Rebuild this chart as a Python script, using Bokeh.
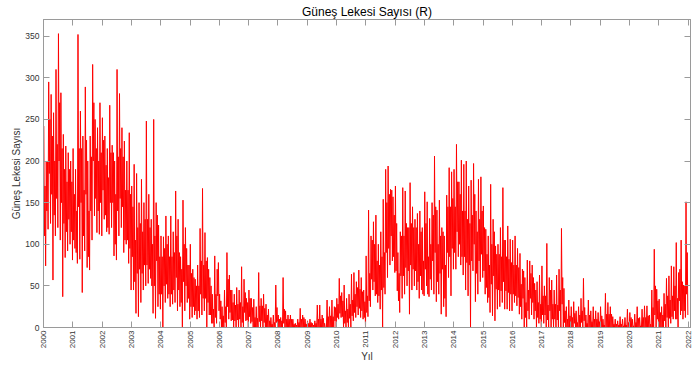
from math import pi
from bokeh.plotting import figure
from bokeh.models import FixedTicker, LinearAxis, Range1d
from bokeh.embed import file_html
from bokeh.resources import INLINE

# ---- tick definitions ----
year_ticks = list(range(2000, 2023))
year_labels = [str(y) for y in year_ticks]
value_ticks = [0, 50, 100, 150, 200, 250, 300, 350]

# ---- daily sunspot number per month:
#      high = monthly peak, low = monthly dip, mid_high / mid_low = typical band ----
high_2000 = [242, 200, 295, 280, 258, 310, 353, 282, 232, 218, 210, 200]
low_2000 = [74, 118, 125, 57, 110, 120, 105, 37, 84, 92, 100, 81]
mid_high_2000 = [170, 200, 250, 230, 200, 220, 270, 215, 190, 175, 190, 175]
mid_low_2000 = [110, 140, 185, 160, 135, 155, 200, 150, 125, 115, 130, 115]

high_2001 = [215, 190, 352, 260, 230, 289, 200, 230, 316, 250, 240, 270]
low_2001 = [95, 77, 82, 42, 92, 72, 69, 105, 134, 114, 112, 110]
mid_high_2001 = [160, 140, 215, 215, 165, 225, 140, 205, 270, 215, 200, 210]
mid_low_2001 = [105, 90, 145, 150, 110, 160, 85, 140, 200, 155, 140, 150]

high_2002 = [252, 230, 215, 267, 219, 200, 310, 281, 240, 224, 200, 234]
low_2002 = [130, 115, 112, 120, 86, 81, 110, 120, 90, 100, 77, 45]
mid_high_2002 = [225, 195, 180, 210, 210, 160, 205, 215, 205, 165, 165, 160]
mid_low_2002 = [165, 135, 120, 150, 150, 100, 140, 155, 145, 105, 105, 95]

high_2003 = [170, 196, 185, 150, 178, 150, 248, 160, 130, 250, 150, 123]
low_2003 = [45, 17, 13, 30, 45, 50, 53, 59, 17, 11, 25, 22]
mid_high_2003 = [145, 105, 120, 125, 115, 130, 130, 120, 100, 110, 135, 85]
mid_low_2003 = [85, 55, 65, 70, 65, 75, 75, 70, 50, 50, 80, 40]

high_2004 = [110, 109, 134, 110, 134, 115, 164, 130, 85, 153, 120, 75]
low_2004 = [0, 30, 35, 25, 28, 30, 20, 25, 0, 20, 30, 10]
mid_high_2004 = [85, 95, 100, 85, 85, 90, 110, 90, 70, 100, 95, 75]
mid_low_2004 = [40, 50, 52, 40, 40, 45, 60, 45, 30, 55, 50, 35]

high_2005 = [100, 70, 58, 75, 119, 167, 114, 84, 60, 40, 86, 70]
low_2005 = [12, 15, 10, 12, 15, 20, 0, 15, 5, 0, 5, 20]
mid_high_2005 = [65, 60, 50, 50, 80, 75, 80, 70, 50, 22, 40, 78]
mid_low_2005 = [25, 25, 20, 20, 40, 35, 35, 30, 15, 5, 12, 38]

high_2006 = [40, 25, 45, 90, 63, 45, 40, 48, 45, 73, 58, 35]
low_2006 = [0, 0, 0, 10, 8, 0, 0, 0, 0, 0, 8, 0]
mid_high_2006 = [32, 14, 25, 58, 45, 30, 27, 28, 30, 25, 42, 30]
mid_low_2006 = [10, 0, 6, 25, 18, 9, 8, 9, 10, 6, 18, 9]

high_2007 = [45, 35, 34, 25, 66, 35, 40, 28, 22, 12, 15, 51]
low_2007 = [5, 0, 0, 0, 0, 0, 0, 0, 0, 0, 0, 0]
mid_high_2007 = [35, 24, 12, 11, 26, 26, 23, 15, 8, 4, 6, 24]
mid_low_2007 = [13, 7, 0, 0, 7, 8, 6, 0, 0, 0, 0, 6]

high_2008 = [15, 12, 60, 20, 15, 15, 10, 5, 10, 23, 15, 10]
low_2008 = [0, 0, 0, 0, 0, 0, 0, 0, 0, 0, 0, 0]
mid_high_2008 = [10, 8, 22, 10, 10, 10, 4, 3, 6, 10, 12, 4]
mid_low_2008 = [0, 0, 5, 0, 0, 0, 0, 0, 0, 0, 0, 0]

high_2009 = [8, 10, 5, 8, 27, 27, 15, 5, 33, 25, 33, 25]
low_2009 = [0, 0, 0, 0, 0, 0, 0, 0, 0, 0, 0, 0]
mid_high_2009 = [5, 6, 3, 5, 10, 10, 11, 0, 13, 14, 13, 24]
mid_low_2009 = [0, 0, 0, 0, 0, 0, 0, 0, 0, 0, 0, 8]

high_2010 = [35, 59, 42, 51, 35, 40, 64, 66, 55, 69, 60, 45]
low_2010 = [10, 12, 0, 0, 0, 0, 8, 12, 15, 12, 10, 0]
mid_high_2010 = [28, 38, 32, 20, 22, 28, 33, 40, 48, 46, 43, 31]
mid_low_2010 = [12, 17, 13, 5, 6, 11, 14, 18, 25, 23, 20, 12]

high_2011 = [86, 141, 110, 127, 135, 100, 115, 154, 190, 194, 166, 157]
low_2011 = [13, 25, 45, 38, 30, 22, 0, 40, 60, 75, 80, 66]
mid_high_2011 = [38, 65, 105, 100, 80, 75, 85, 90, 150, 160, 165, 135]
mid_low_2011 = [18, 32, 58, 55, 40, 38, 45, 48, 90, 95, 110, 85]

high_2012 = [170, 90, 115, 168, 164, 120, 174, 145, 130, 137, 140, 120]
low_2012 = [44, 18, 35, 40, 50, 16, 45, 50, 45, 35, 45, 38]
mid_high_2012 = [125, 65, 110, 110, 125, 120, 125, 120, 120, 100, 115, 80]
mid_low_2012 = [68, 32, 62, 62, 72, 68, 75, 70, 68, 55, 62, 40]

high_2013 = [163, 151, 131, 150, 206, 141, 153, 120, 110, 159, 192, 187]
low_2013 = [50, 37, 45, 40, 31, 40, 16, 25, 13, 60, 38, 70]
mid_high_2013 = [125, 85, 100, 135, 145, 100, 110, 115, 75, 145, 145, 155]
mid_low_2013 = [70, 40, 58, 80, 90, 55, 65, 70, 35, 90, 85, 95]

high_2014 = [190, 220, 175, 201, 196, 200, 170, 177, 197, 140, 178, 181]
low_2014 = [70, 85, 75, 63, 45, 38, 0, 68, 31, 40, 55, 60]
mid_high_2014 = [145, 175, 160, 140, 140, 130, 125, 135, 160, 115, 130, 140]
mid_low_2014 = [90, 115, 100, 85, 85, 78, 75, 80, 100, 65, 80, 88]

high_2015 = [146, 118, 110, 172, 130, 98, 100, 120, 168, 105, 122, 106]
low_2015 = [40, 30, 18, 14, 8, 22, 25, 30, 22, 22, 20, 20]
mid_high_2015 = [120, 88, 75, 100, 115, 88, 88, 85, 105, 85, 82, 78]
mid_low_2015 = [68, 48, 36, 52, 62, 46, 45, 44, 55, 44, 42, 40]

high_2016 = [105, 110, 95, 89, 70, 60, 81, 80, 75, 53, 55, 63]
low_2016 = [30, 26, 16, 10, 0, 0, 10, 15, 10, 0, 5, 0]
mid_high_2016 = [75, 75, 72, 52, 68, 30, 45, 65, 60, 45, 30, 28]
mid_low_2016 = [40, 38, 36, 25, 35, 12, 20, 35, 30, 20, 12, 10]

high_2017 = [74, 50, 101, 60, 57, 45, 63, 70, 119, 47, 25, 33]
low_2017 = [5, 0, 0, 0, 0, 0, 0, 0, 0, 0, 0, 0]
mid_high_2017 = [38, 38, 27, 45, 28, 28, 27, 45, 60, 20, 10, 14]
mid_low_2017 = [15, 15, 9, 20, 10, 10, 9, 20, 28, 6, 0, 0]

high_2018 = [25, 31, 20, 25, 35, 59, 15, 33, 20, 25, 20, 18]
low_2018 = [0, 0, 0, 0, 0, 0, 0, 0, 0, 0, 0, 0]
mid_high_2018 = [12, 17, 6, 15, 20, 24, 5, 15, 7, 10, 10, 7]
mid_low_2018 = [0, 5, 0, 0, 6, 8, 0, 0, 0, 0, 0, 0]

high_2019 = [25, 10, 41, 30, 25, 13, 10, 8, 13, 10, 12, 22]
low_2019 = [0, 0, 0, 0, 0, 0, 0, 0, 0, 0, 0, 0]
mid_high_2019 = [14, 3, 16, 16, 16, 4, 4, 3, 4, 2, 3, 6]
mid_low_2019 = [0, 0, 0, 0, 0, 0, 0, 0, 0, 0, 0, 0]

high_2020 = [18, 10, 16, 25, 12, 22, 26, 26, 15, 45, 94, 46]
low_2020 = [0, 0, 0, 0, 0, 0, 0, 0, 0, 0, 0, 0]
mid_high_2020 = [12, 2, 6, 11, 2, 12, 12, 14, 4, 24, 50, 32]
mid_low_2020 = [0, 0, 0, 0, 0, 0, 0, 0, 0, 0, 15, 10]

high_2021 = [34, 25, 41, 59, 62, 74, 73, 102, 66, 105, 51, 151]
low_2021 = [0, 0, 0, 0, 5, 10, 10, 0, 15, 10, 12, 15]
mid_high_2021 = [18, 15, 28, 38, 33, 38, 50, 35, 70, 55, 50, 90]
mid_low_2021 = [0, 0, 8, 12, 11, 13, 20, 10, 32, 20, 20, 40]

first_year = 2000
highs = [high_2000, high_2001, high_2002, high_2003, high_2004, high_2005,
         high_2006, high_2007, high_2008, high_2009, high_2010, high_2011,
         high_2012, high_2013, high_2014, high_2015, high_2016, high_2017,
         high_2018, high_2019, high_2020, high_2021]
lows = [low_2000, low_2001, low_2002, low_2003, low_2004, low_2005,
        low_2006, low_2007, low_2008, low_2009, low_2010, low_2011,
        low_2012, low_2013, low_2014, low_2015, low_2016, low_2017,
        low_2018, low_2019, low_2020, low_2021]
mid_highs = [mid_high_2000, mid_high_2001, mid_high_2002, mid_high_2003,
             mid_high_2004, mid_high_2005, mid_high_2006, mid_high_2007,
             mid_high_2008, mid_high_2009, mid_high_2010, mid_high_2011,
             mid_high_2012, mid_high_2013, mid_high_2014, mid_high_2015,
             mid_high_2016, mid_high_2017, mid_high_2018, mid_high_2019,
             mid_high_2020, mid_high_2021]
mid_lows = [mid_low_2000, mid_low_2001, mid_low_2002, mid_low_2003,
            mid_low_2004, mid_low_2005, mid_low_2006, mid_low_2007,
            mid_low_2008, mid_low_2009, mid_low_2010, mid_low_2011,
            mid_low_2012, mid_low_2013, mid_low_2014, mid_low_2015,
            mid_low_2016, mid_low_2017, mid_low_2018, mid_low_2019,
            mid_low_2020, mid_low_2021]

# time stamps: four samples per month (days ~4, 11, 19, 26)
xs, ys = [], []
for k in range(len(highs)):
    yr = first_year + k
    for m in range(12):
        month_vals = [highs[k][m], mid_lows[k][m], mid_highs[k][m], lows[k][m]]
        for j, v in enumerate(month_vals):
            xs.append(yr + (m + (j + 0.5) / 4.0) / 12.0)
            ys.append(v)

# ---- figure ----
X0, X1 = 2000.0, 2022.08
Y0, Y1 = 0.0, 370.0
AX = "#9a9a9a"
TXT = "#333333"
FONT = "Liberation Sans"

p = figure(width=695, height=365,
           x_range=Range1d(X0, X1), y_range=Range1d(Y0, Y1),
           output_backend="svg", toolbar_location=None,
           x_axis_type=None, y_axis_type=None,
           min_border_left=43, min_border_right=5, min_border_top=19, min_border_bottom=37)
p.background_fill_color = "white"
p.border_fill_color = "white"
p.outline_line_color = AX
p.outline_line_width = 1
p.xgrid.visible = False
p.ygrid.visible = False

p.title.text = "Güneş Lekesi Sayısı (R)"
p.title.align = "center"
p.title.text_font = FONT
p.title.text_font_size = "12px"
p.title.text_font_style = "normal"
p.title.text_color = "#000000"
p.title.standoff = 2

p.line(xs, ys, line_color="#ff0000", line_width=1)

def style_axis(ax, show_labels):
    ax.axis_line_color = AX
    ax.major_tick_line_color = AX
    ax.major_tick_in = 6
    ax.major_tick_out = 0
    ax.minor_tick_line_color = None
    if show_labels:
        ax.major_label_text_font = FONT
        ax.major_label_text_font_size = "8px"
        ax.major_label_text_color = TXT
        ax.major_label_standoff = 3
        ax.axis_label_text_font = FONT
        ax.axis_label_text_font_size = "10px"
        ax.axis_label_text_font_style = "normal"
        ax.axis_label_text_color = TXT
        ax.axis_label_standoff = 0
    else:
        ax.major_label_text_font_size = "1px"
        ax.major_label_text_color = None
        ax.major_label_standoff = 0

xb = LinearAxis(ticker=FixedTicker(ticks=year_ticks),
                major_label_overrides={t: s for t, s in zip(year_ticks, year_labels)},
                axis_label="Yıl")
style_axis(xb, True)
xb.major_label_orientation = pi / 2
p.add_layout(xb, "below")

xt = LinearAxis(ticker=FixedTicker(ticks=year_ticks))
style_axis(xt, False)
p.add_layout(xt, "above")

yl = LinearAxis(ticker=FixedTicker(ticks=value_ticks), axis_label="Güneş Lekesi Sayısı")
style_axis(yl, True)
yl.major_label_text_font_size = "8.5px"
yl.major_label_standoff = 4
p.add_layout(yl, "left")

yr_ax = LinearAxis(ticker=FixedTicker(ticks=value_ticks))
style_axis(yr_ax, False)
p.add_layout(yr_ax, "right")

open("out.html", "w").write(file_html(p, INLINE))
